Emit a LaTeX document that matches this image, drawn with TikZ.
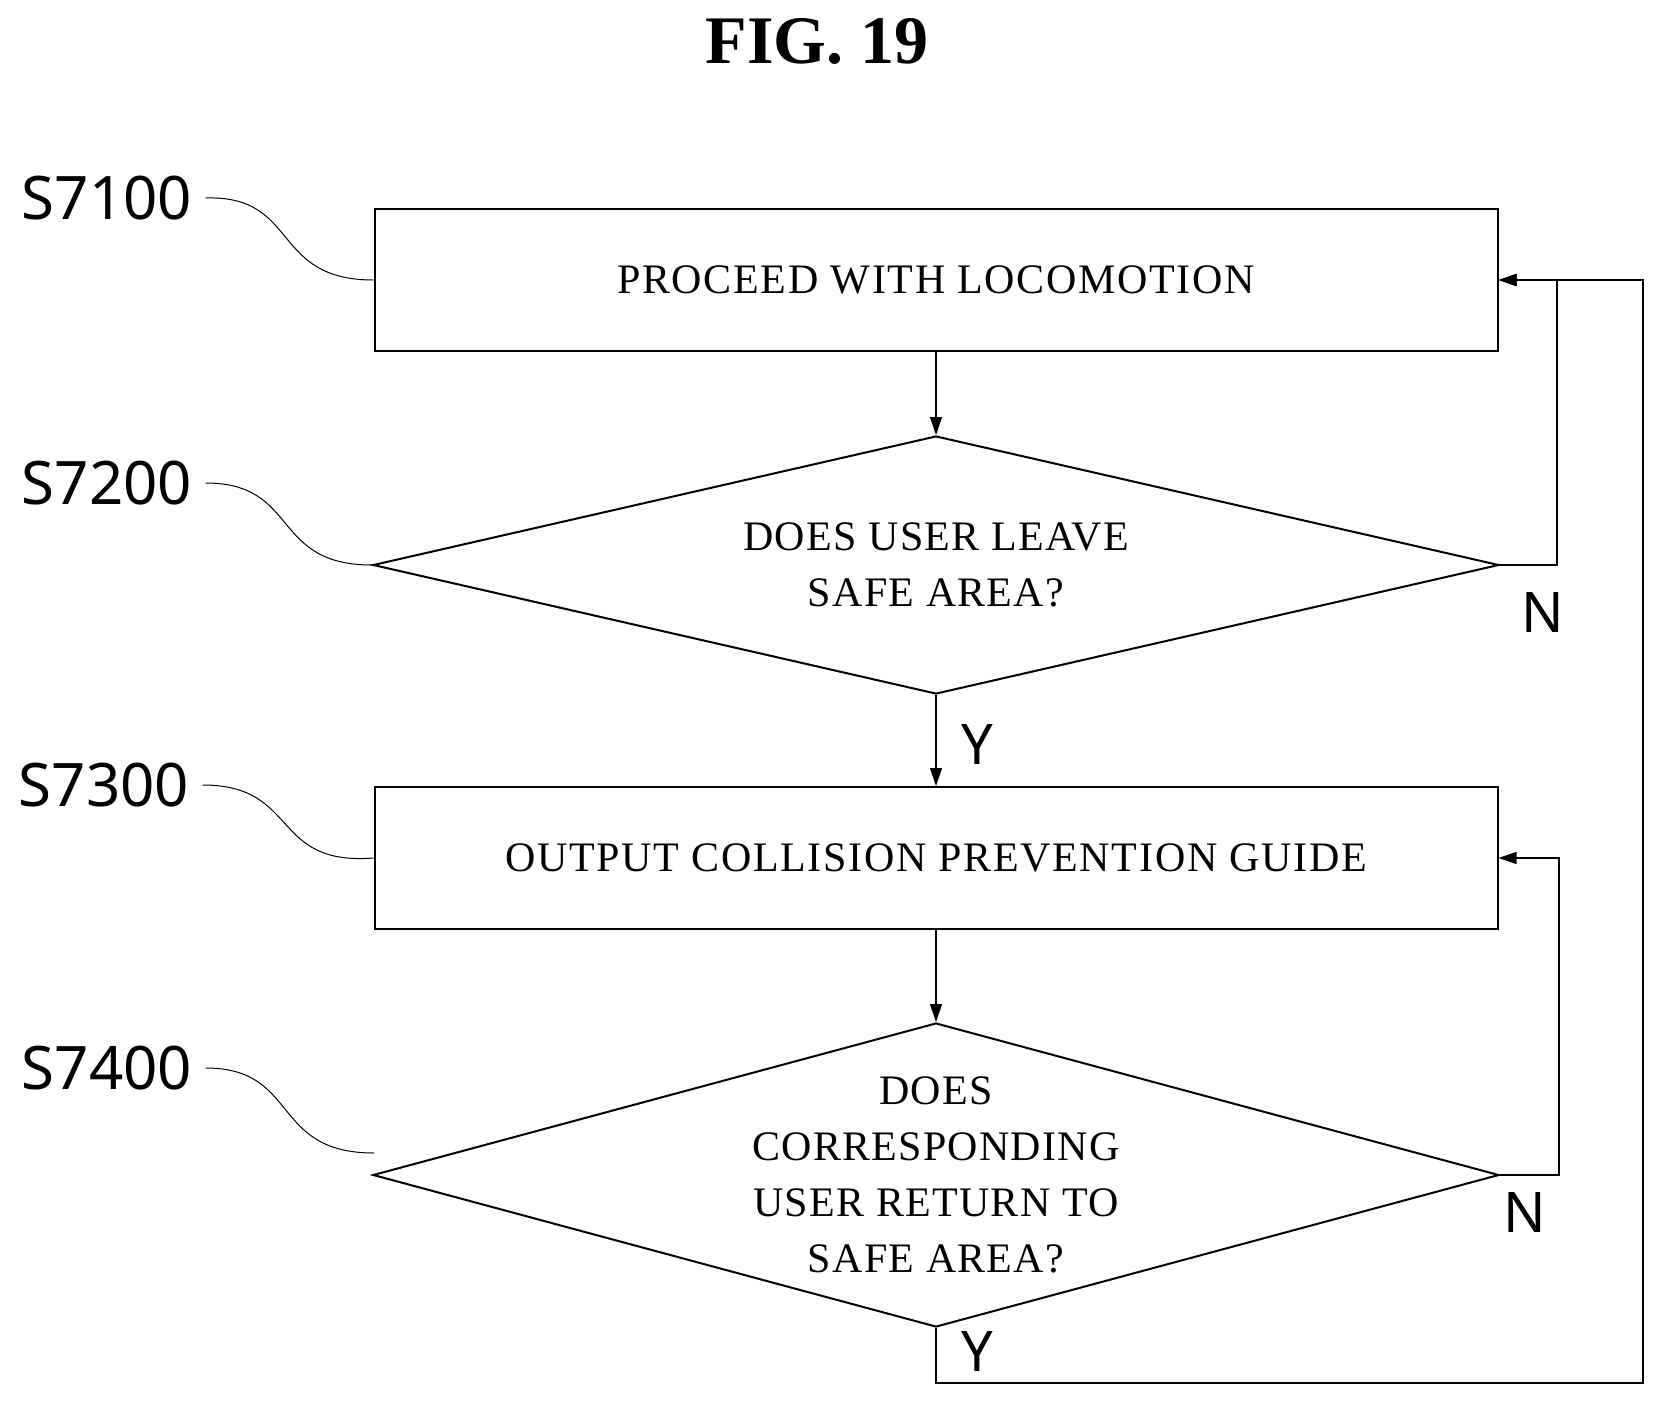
\documentclass[tikz,border=0pt]{standalone}
\usepackage{fontspec}
\setmainfont{Liberation Serif}
\newfontfamily\lab{Noto Sans}
\usetikzlibrary{shapes.geometric,arrows.meta}
\begin{document}
\begin{tikzpicture}[x=1pt,y=-1pt,
  box/.style={draw,line width=2pt,minimum width=1123pt,minimum height=142pt,font=\addfontfeatures{LetterSpace=4}\fontsize{42}{48}\selectfont},
  dia/.style={draw,line width=2pt,diamond,aspect=4.36,minimum width=1126pt,minimum height=258pt,inner sep=0pt,align=center,font=\addfontfeatures{LetterSpace=3}\fontsize{42}{56}\selectfont},
  con/.style={line width=1.3pt},
  arr/.style={con,-{Triangle[length=18pt,width=12pt]}},
  lbl/.style={font=\lab\fontsize{60}{60}\selectfont},
  yn/.style={font=\lab\fontsize{56}{56}\selectfont},
  sq/.style={line width=1pt}]
\useasboundingbox (0,0) rectangle (1666,1406);
\node[font=\bfseries\fontsize{68}{68}\selectfont] (t) at (817,41) {FIG. 19};
\node[box] (b1) at (936,280) {PROCEED WITH LOCOMOTION};
\node[dia,minimum height=258pt] (d1) at (936,565) {DOES USER LEAVE\\SAFE AREA?};
\node[box] (b2) at (936,858) {OUTPUT COLLISION PREVENTION GUIDE};
\node[dia,minimum height=304pt,aspect=3.7] (d2) at (936,1175) {DOES\\CORRESPONDING\\USER RETURN TO\\SAFE AREA?};
\draw[arr] (b1.south) -- (d1.north);
\draw[arr] (d1.south) -- (b2.north);
\draw[arr] (b2.south) -- (d2.north);
\coordinate (l1) at (1557,565);
\coordinate (l2) at (1559,1175);
\coordinate (l3a) at (936,1383);
\coordinate (l3b) at (1643,1383);
\draw[arr] (d1.east) -- (l1) |- (b1.east);
\draw[arr] (d2.east) -- (l2) |- (b2.east);
\draw[arr] (d2.south) -- (l3a) -- (l3b) |- (b1.east);
\node[yn] (y1) at (977,744) {Y};
\node[yn] (y2) at (977,1351) {Y};
\node[yn] (n1) at (1543,612) {N};
\node[yn] (n2) at (1525,1212) {N};
\node[lbl] (s1) at (107,198) {S7100};
\node[lbl] (s2) at (107,483) {S7200};
\node[lbl] (s3) at (104,785) {S7300};
\node[lbl] (s4) at (107,1068) {S7400};
\draw[sq] (s1.east)++(10,0) .. controls (300,195) and (270,280) .. (b1.west);
\draw[sq] (s2.east)++(10,0) .. controls (300,483) and (270,565) .. (d1.west);
\draw[sq] (s3.east)++(10,0) .. controls (300,785) and (270,866) .. (b2.west);
\coordinate (e4) at (374,1153);
\draw[sq] (s4.east)++(10,0) .. controls (300,1068) and (270,1153) .. (e4);
\end{tikzpicture}
\end{document}
